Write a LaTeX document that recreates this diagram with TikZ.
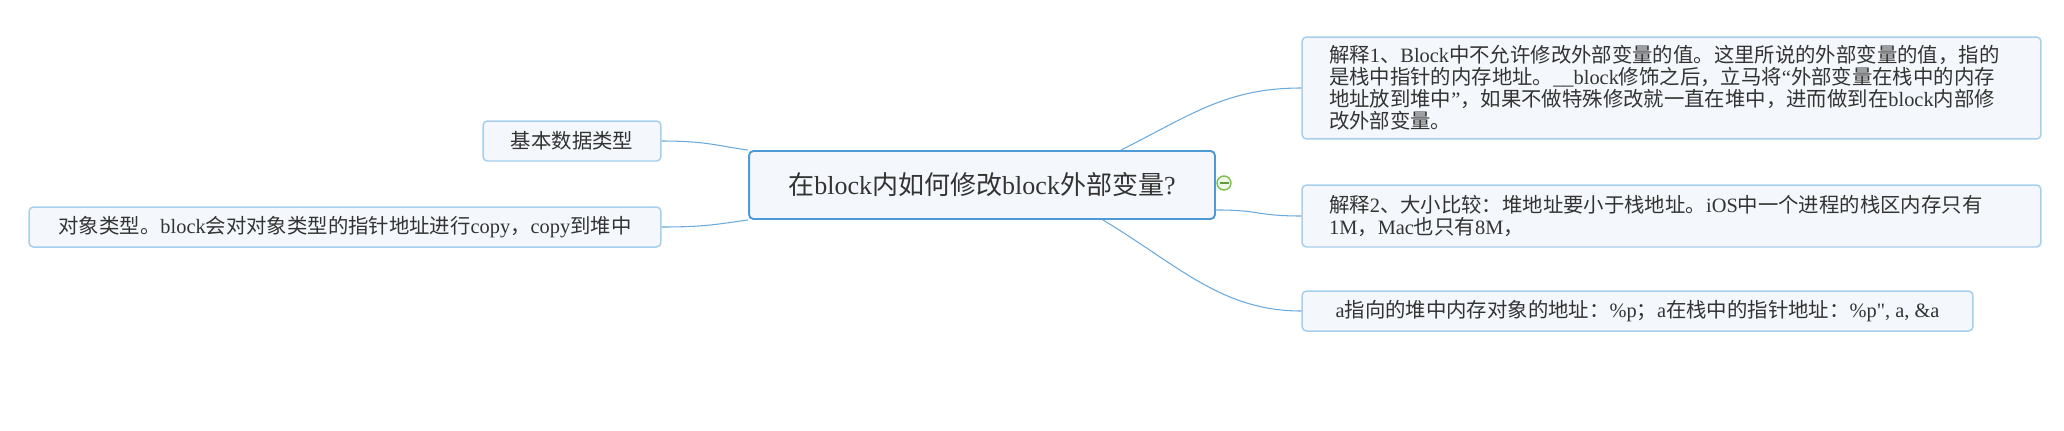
\documentclass[tikz,border=0pt]{standalone}
\usepackage{fontspec}
\setmainfont{Liberation Serif}
\newfontfamily\zhfont{Noto Sans CJK SC}
\newfontfamily\plainserif{Liberation Serif}
\usetikzlibrary{calc}
\definecolor{topicline}{HTML}{4C9BD6}
\definecolor{leafline}{HTML}{A6CFEC}
\definecolor{boxfill}{HTML}{F4F8FC}
\definecolor{wirecol}{HTML}{6AAADD}
\definecolor{ink}{HTML}{333333}
\definecolor{foldgreen}{HTML}{7DBE4B}

% han characters switch to the CJK family by themselves
\XeTeXinterchartokenstate=1
\newXeTeXintercharclass\zhclass
\newcount\zhc
\def\zhrange#1#2{\zhc=#1 \loop\ifnum\zhc<#2 \XeTeXcharclass\zhc=\zhclass \advance\zhc by 1 \repeat}
\zhrange{"3000}{"3040}
\zhrange{"4E00}{"A000}
\zhrange{"FF00}{"FFF0}
\XeTeXinterchartoks 0 \zhclass = {\begingroup\zhfont}
\XeTeXinterchartoks 4095 \zhclass = {\begingroup\zhfont}
\XeTeXinterchartoks \zhclass 0 = {\endgroup}
\XeTeXinterchartoks \zhclass 4095 = {\endgroup}

\begin{document}
\begin{tikzpicture}[x=0.02cm, y=-0.02cm, text=ink,
    font=\fontsize{11.6pt}{12.5pt}\selectfont,
    topic/.style={draw=topicline, line width=1.1pt, fill=boxfill, rounded corners=2.5pt, minimum width=9.32cm, minimum height=1.36cm, inner sep=1pt, font=\fontsize{14.8pt}{16pt}\selectfont},
    leaf/.style={draw=leafline, line width=0.85pt, fill=boxfill, rounded corners=2.5pt, minimum height=0.8cm, inner sep=1pt},
    note/.style={leaf, align=left, inner xsep=0.54cm, text width=13.7cm},
    fold/.style={circle, draw=foldgreen, line width=0.8pt, fill=foldgreen!12, minimum size=0.28cm, inner sep=0pt},
    wire/.style={draw=wirecol, line width=0.6pt}]

  \useasboundingbox (0,0) rectangle (2064,430);

  % central topic
  \node[topic] (topic) at (982,185) {在block内如何修改block外部变量?\hspace{0.2cm}};
  \node[fold] (fold) at (1224,183) {};
  \draw[foldgreen!80!black, line width=1.3pt] ([xshift=-0.09cm]fold.center) -- ([xshift=0.09cm]fold.center);

  % left side: what gets captured
  \node[leaf, minimum width=3.56cm] (basic) at (572,141) {基本数据类型};
  \node[leaf, minimum width=12.64cm] (obj) at (345,227) {对象类型。block会对对象类型的指针地址进行copy，copy到堆中};

  % right side: notes
  \node[note, minimum height=2.04cm] (e1) at (1671.5,88) {解释1、Block中不允许修改外部变量的值。这里所说的外部变量的值，指的\\是栈中指针的内存地址。\_\_block修饰之后，立马将“外部变量在栈中的内存\\地址放到堆中”，如果不做特殊修改就一直在堆中，进而做到在block内部修\\改外部变量。};
  \node[note, minimum height=1.24cm] (e2) at (1671.5,216) {解释2、大小比较：堆地址要小于栈地址。iOS中一个进程的栈区内存只有\\1M，Mac也只有8M，};
  \node[leaf, minimum width=13.42cm] (ptr) at (1637.5,311) {a指向的堆中内存对象的地址：\%p；a在栈中的指针地址：\%p{\plainserif"}, a, \&a};

  % branches
  \draw[wire] (basic.east) .. controls +(45,0) and +(-30,-4) .. (topic.north west);
  \draw[wire] (obj.east) .. controls +(45,0) and +(-30,4) .. (topic.south west);
  \draw[wire] ($(topic.north east)+(-95,0)$) .. controls +(70,-35) and +(-75,0) .. (e1.west);
  \draw[wire] ($(topic.south east)+(0,-10)$) .. controls +(45,0) and +(-45,0) .. (e2.west);
  \draw[wire] ($(topic.south east)+(-113,0)$) .. controls +(75,45) and +(-80,0) .. (ptr.west);
\end{tikzpicture}
\end{document}
